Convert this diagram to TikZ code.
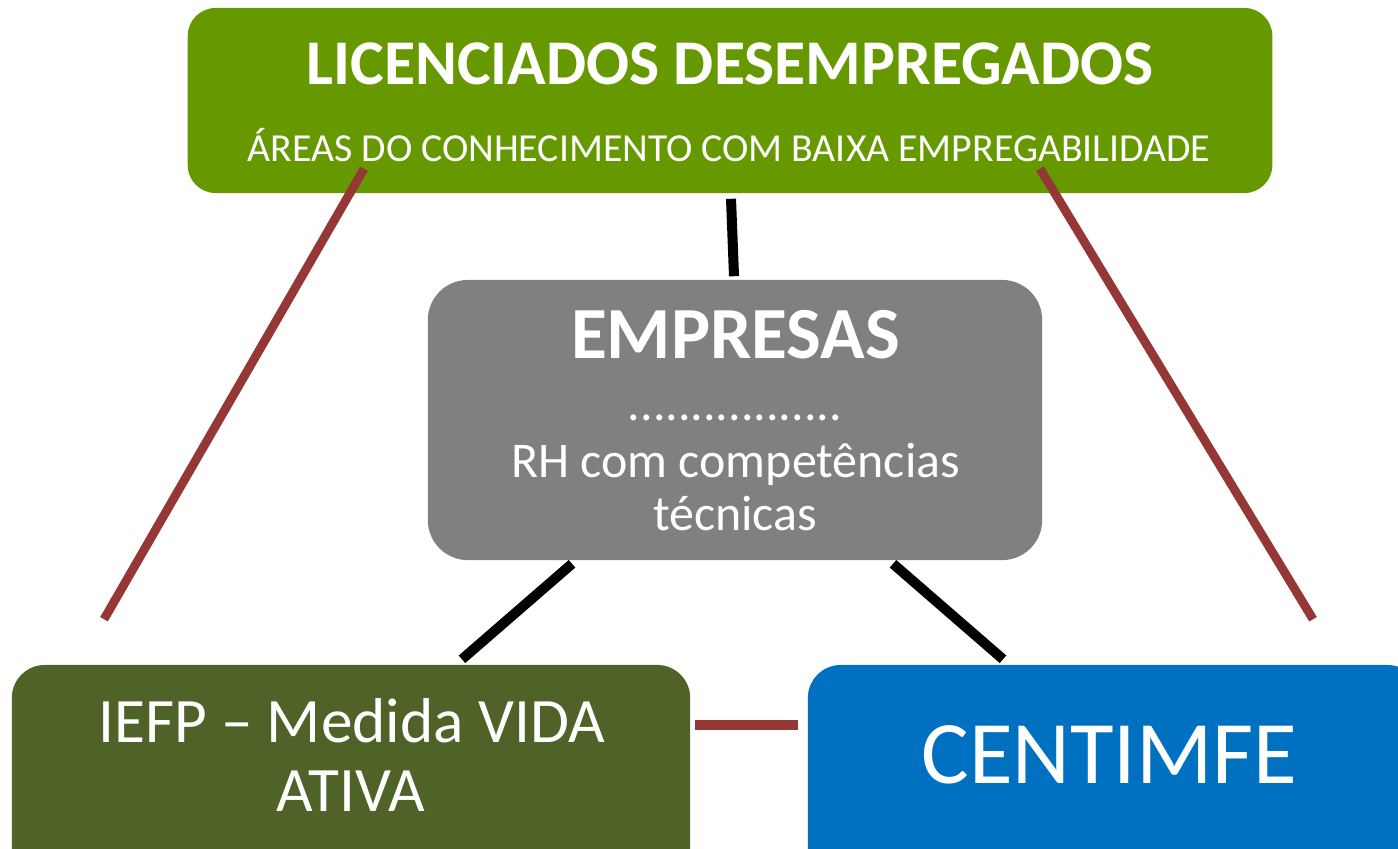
\documentclass[tikz,border=0pt]{standalone}
\usepackage{fontspec}
\setmainfont{Carlito}
\usetikzlibrary{calc}
\definecolor{topgreen}{RGB}{102,153,0}
\definecolor{empgray}{RGB}{128,128,128}
\definecolor{iefpgreen}{RGB}{79,98,40}
\definecolor{cblue}{RGB}{0,112,192}
\definecolor{linkred}{RGB}{149,55,53}
\tikzset{
  box/.style={inner sep=0pt, draw=none},
  txt/.style={anchor=base, inner sep=0pt, text=white},
  blackline/.style={line width=2.85pt, black},
  redline/.style={line width=2.5pt, linkred},
}
\newcommand{\fs}[1]{\fontsize{#1}{#1}\selectfont}
\begin{document}
\begin{tikzpicture}[x=0.01cm,y=-0.01cm]
\useasboundingbox (0,0) rectangle (1398,848);
\clip (0,0) rectangle (1398,848);
% boxes
\node[box, fill=topgreen, rounded corners=0.28cm, minimum width=10.84cm, minimum height=1.85cm] (top) at (730,100.5) {};
\node[box, fill=empgray, rounded corners=0.4cm, minimum width=6.14cm, minimum height=2.8cm] (emp) at (735,420) {};
\node[box, fill=iefpgreen, rounded corners=0.33cm, minimum width=6.78cm, minimum height=2.2cm] (iefp) at (351,775) {};
\node[box, fill=cblue, rounded corners=0.33cm, minimum width=6.12cm, minimum height=2.2cm] (cent) at (1114,775) {};
% texts
\node[txt, font=\fs{18.1pt}\bfseries] (t1) at (730,84) {LICENCIADOS DESEMPREGADOS};
\node[txt, font=\fs{11.3pt}] (t2) at (729,161) {ÁREAS DO CONHECIMENTO COM BAIXA EMPREGABILIDADE};
\node[txt, font=\fs{20.9pt}\bfseries] (e1) at (735.5,358) {EMPRESAS};
\node[txt, font=\fs{14.2pt}] (e2) at (735,420) {.................};
\node[txt, font=\fs{14.2pt}] (e3) at (735.5,477) {RH com competências};
\node[txt, font=\fs{14.2pt}] (e4) at (735,530) {técnicas};
\node[txt, font=\fs{18pt}] (i1) at (351.5,742) {IEFP – Medida VIDA};
\node[txt, font=\fs{18pt}] (i2) at (351,811) {ATIVA};
\node[txt, font=\fs{25.4pt}] (c1) at (1109.5,783) {CENTIMFE};
% connectors
\draw[blackline] ($(top.south)+(1,5)$) -- ($(emp.north)+(-1,-3)$);
\draw[blackline] ($(emp.south)+(-163,3)$) -- ($(iefp.north)+(111,-5)$);
\draw[blackline] ($(emp.south)+(158,3)$) -- ($(cent.north)+(-111,-5)$);
\draw[redline] ($(top.south)+(-366,-25)$) -- ($(iefp.north)+(-247,-45)$);
\draw[redline] ($(top.south)+(310,-25)$) -- ($(cent.north)+(199,-45)$);
\draw[line width=2.85pt, linkred] ($(iefp.east)+(4,-50)$) -- ($(cent.west)+(-9,-50)$);
\end{tikzpicture}
\end{document}
